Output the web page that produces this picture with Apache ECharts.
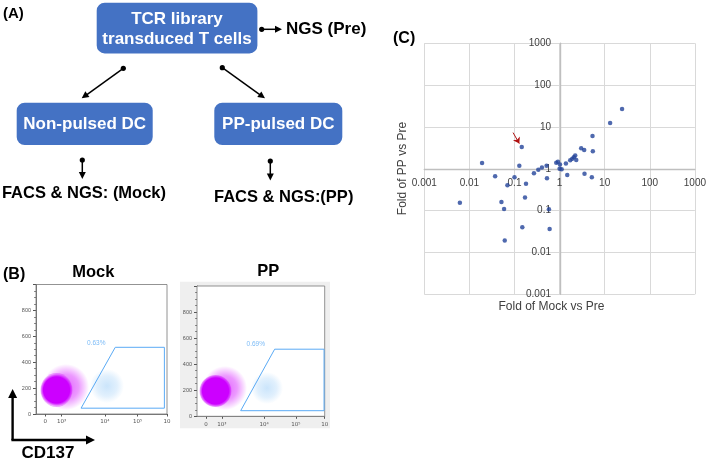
<!DOCTYPE html>
<html><head><meta charset="utf-8">
<script src="https://cdn.jsdelivr.net/npm/echarts@6/dist/echarts.min.js"></script>
<style>html,body{margin:0;padding:0;background:#fff}#c{width:709px;height:462px}</style>
</head><body><div id="c"></div>
<script>
// ---- Panel C data: fold change of each TCR clonotype ----
const foldMock = [24.3,13.2,5.37,5.46,3.01,3.51,3.57,5.19,2.22,2.07,1.91,1.72,2.34,1.38,1.48,0.843,0.918,1.02,1.0,1.11,0.515,0.525,0.406,0.337,0.270,0.145,0.128,0.100,0.0697,0.180,0.171,0.0372,0.0191,0.00615,0.0513,0.0588,0.149,0.0608,0.601,0.580];
const foldPP   = [26.9,12.5,6.10,2.62,3.09,2.82,0.766,0.627,2.07,1.88,1.75,1.60,1.63,1.33,0.713,1.40,1.48,1.26,1.0,0.98,1.19,0.593,1.07,0.955,0.78,3.33,1.19,0.627,0.404,0.441,0.205,0.662,1.38,0.155,0.161,0.110,0.040,0.0192,0.0365,0.108];
const logTickLabels = ['0.001','0.01','0.1','1','10','100','1000'];
const arrowFrom = [0.093, 7.33];
const arrowTo = [0.128, 4.0];

// ---- Panel B: FACS plot axes and gates ----
const facsYTicks = [0,200,400,600,800];
const facsXTickPos = [7,19.5,52.5,77.5,100];
const facsXTickLabels = ['0','10\u00B3','10\u2074','10\u2075','10'];
const gateMock = [[34.4,45],[60.5,515],[98,515],[98,45],[34.4,45]];
const gatePP   = [[34.2,43],[60.8,515],[99.5,515],[99.5,43],[34.2,43]];
const gatePct = ['0.63%','0.69%'];
const gateLabelPos = [[46,550],[46,550]];

// ---- Panel A text ----
const flowTop = ['TCR library','transduced T cells'];
const flowLeft = 'Non-pulsed DC', flowRight = 'PP-pulsed DC';
const flowPre = 'NGS (Pre)';
const flowOutL = 'FACS & NGS: (Mock)', flowOutR = 'FACS & NGS:(PP)';

const chart = echarts.init(document.getElementById('c'), null, {renderer:'canvas'});
const F = 'Liberation Sans, Arial, sans-serif';
const BLUE = '#4472c4';

function txt(x,y,t,o){o=o||{};return {type:'text',x:x,y:y,z:10,style:{text:t,fill:o.fill||'#000',font:(o.bold===false?'':'bold ')+(o.size||17)+'px '+F,textAlign:o.align||'center',textVerticalAlign:'middle'}};}
function box(x,y,w,h){return {type:'rect',z:5,shape:{x:x,y:y,width:w,height:h,r:8},style:{fill:BLUE}};}
function arrow(p0,p1,o){o=o||{};const w=o.w||1.5,len=o.len||7,hw=o.hw||3.5,dot=o.dot!==false,col=o.color||'#000';
  const dx=p1[0]-p0[0],dy=p1[1]-p0[1],L=Math.hypot(dx,dy),ux=dx/L,uy=dy/L,nx=-uy,ny=ux;
  const bx=p1[0]-ux*len,by=p1[1]-uy*len;
  const els=[{type:'line',z:6,shape:{x1:p0[0],y1:p0[1],x2:bx+ux*1,y2:by+uy*1},style:{stroke:col,lineWidth:w}},
    {type:'polygon',z:6,shape:{points:[[p1[0],p1[1]],[bx+nx*hw,by+ny*hw],[bx-nx*hw,by-ny*hw]]},style:{fill:col}}];
  if(dot) els.push({type:'circle',z:6,shape:{cx:p0[0],cy:p0[1],r:2.6},style:{fill:col}});
  return els;}
function blob(cx,cy,rx,ry,color,stops,z){return {type:'ellipse',z:z||3,shape:{cx:cx,cy:cy,rx:rx,ry:ry},
  style:{fill:{type:'radial',x:0.5,y:0.5,r:0.5,colorStops:stops.map(s=>({offset:s[0],color:echarts.color.modifyAlpha(color,s[1])}))}}};}

const graphics = [
  txt(3,13.5,'(A)',{align:'left',size:15}),
  box(96.7,2.7,160.7,50.7), txt(177,19.5,flowTop[0],{fill:'#fff'}), txt(177,39.5,flowTop[1],{fill:'#fff'}),
  ...arrow([261.7,29.3],[282,29.3]), txt(286,29.5,flowPre,{align:'left'}),
  ...arrow([123.3,68.3],[81.7,98.3]), ...arrow([222.3,67.7],[265,98.3]),
  box(16.7,102.7,136,42.3), txt(84.7,124.5,flowLeft,{fill:'#fff'}),
  box(214.3,102.7,128,42.3), txt(278.3,124.5,flowRight,{fill:'#fff'}),
  ...arrow([82.3,160],[82.3,179]), ...arrow([270.3,161],[270.3,180.5]),
  txt(84,193.5,flowOutL,{size:16.5}), txt(283.7,197,flowOutR,{size:16.5}),
  // Panel B
  txt(3,275,'(B)',{align:'left',size:16}),
  txt(93.3,272,'Mock',{size:16.5}), txt(268.3,271,'PP',{size:16.5}),
  {type:'rect',z:0,shape:{x:180,y:281.7,width:150,height:146.6},style:{fill:'#efefef'}},
  {type:'rect',z:1,shape:{x:197,y:286,width:127.7,height:130.3},style:{fill:'#fff'}},
  // Mock densities
  blob(66,387,31,23,'#d000ff',[[0,0.6],[0.55,0.4],[0.8,0.18],[1,0]]),
  blob(107,386,28,17,'#6ab4f4',[[0,0.35],[0.6,0.2],[1,0]]),
  blob(56.5,390,16,17,'#cc00ff',[[0,1],[0.82,1],[1,0.3]],4),
  // PP densities
  blob(225,388,30,22,'#d000ff',[[0,0.6],[0.55,0.4],[0.8,0.18],[1,0]]),
  blob(267,388,25,16,'#6ab4f4',[[0,0.35],[0.6,0.2],[1,0]]),
  blob(215.5,391,16,16,'#cc00ff',[[0,1],[0.82,1],[1,0.3]],4),
  // CD137 axis arrow
  ...arrow([12.6,440],[12.6,389],{w:2.4,len:9,hw:4.5,dot:false}),
  ...arrow([11.4,440],[95,440],{w:2.4,len:9,hw:4.5,dot:false}),
  txt(48,453.5,'CD137',{size:17}),
  // Panel C
  txt(393,38.7,'(C)',{align:'left',size:16}),
  {type:'text',x:551.5,y:306.5,z:10,style:{text:'Fold of Mock vs Pre',fill:'#404040',font:'12px '+F,textAlign:'center',textVerticalAlign:'middle'}},
  {type:'text',x:402.5,y:168.5,rotation:Math.PI/2,z:10,style:{text:'Fold of PP vs Pre',fill:'#404040',font:'12px '+F,textAlign:'center',textVerticalAlign:'middle'}}
];

function facsAxes(gi){
  return {
    x:{type:'value',gridIndex:gi,min:0,max:100,
      axisLine:{show:true,onZero:false,lineStyle:{color:'#555',width:0.8}},
      axisTick:{show:true,customValues:facsXTickPos,length:2.5,lineStyle:{color:'#555'}},
      axisLabel:{customValues:facsXTickPos,fontSize:5.5,color:'#555',margin:5,fontFamily:'DejaVu Sans',
        formatter:v=>{const i=facsXTickPos.indexOf(v);return i>=0?facsXTickLabels[i]:'';}},
      splitLine:{show:false}},
    y:{type:'value',gridIndex:gi,min:0,max:1000,interval:200,
      axisLine:{show:true,lineStyle:{color:'#555',width:0.8}},
      axisTick:{show:true,length:3,lineStyle:{color:'#555'}},
      minorTick:{show:true,splitNumber:4,length:1.8,lineStyle:{color:'#777'}},
      axisLabel:{fontSize:5.5,color:'#555',margin:5,showMaxLabel:false,
        formatter:v=>facsYTicks.indexOf(v)>=0?String(v):''},
      splitLine:{show:false}}
  };
}
const fm = facsAxes(1), fp = facsAxes(2);

function gateSeries(gi,gate){return {type:'line',xAxisIndex:gi,yAxisIndex:gi,data:gate,showSymbol:false,symbol:'none',
  lineStyle:{color:'#5aaaf5',width:1},silent:true,z:5,animation:false};}
function gateLabel(gi,i){return {type:'scatter',xAxisIndex:gi,yAxisIndex:gi,data:[gateLabelPos[i]],symbolSize:0,silent:true,z:6,
  label:{show:true,position:'inside',formatter:gatePct[i],color:'#5aaaf5',fontSize:6.5,fontFamily:F}};}

chart.setOption({
  animation:false,
  backgroundColor:'#fff',
  grid:[
    {left:424.3,top:43.3,width:271.4,height:251,containLabel:false,show:false},
    {left:36,top:284.5,width:131,height:129.5,show:true,borderColor:'#777',borderWidth:0.8,backgroundColor:'transparent',z:2},
    {left:197,top:286,width:127.7,height:130.3,show:true,borderColor:'#777',borderWidth:0.8,backgroundColor:'transparent',z:2}
  ],
  xAxis:[
    {type:'log',gridIndex:0,logBase:10,min:0.001,max:1000,position:'bottom',offset:-125.5,
      axisLine:{show:true,onZero:false,lineStyle:{color:'#bfbfbf',width:1.4}},axisTick:{show:false},
      axisLabel:{fontSize:10,color:'#404040',fontFamily:F,margin:9,showMinLabel:true,showMaxLabel:true,
        formatter:v=>{const i=Math.round(Math.log10(v))+3;return logTickLabels[i]||'';}},
      splitLine:{show:true,lineStyle:{color:'#d9d9d9',width:1}}},
    fm.x, fp.x
  ],
  yAxis:[
    {type:'log',gridIndex:0,logBase:10,min:0.001,max:1000,position:'left',offset:-135.7,
      axisLine:{show:true,onZero:false,lineStyle:{color:'#bfbfbf',width:1.4}},axisTick:{show:false},
      axisLabel:{fontSize:10,color:'#404040',fontFamily:F,margin:9,showMinLabel:true,showMaxLabel:true,
        formatter:v=>{const i=Math.round(Math.log10(v))+3;return logTickLabels[i]||'';}},
      splitLine:{show:true,lineStyle:{color:'#d9d9d9',width:1}}},
    fm.y, fp.y
  ],
  series:[
    {type:'scatter',xAxisIndex:0,yAxisIndex:0,symbolSize:4.5,z:5,
      itemStyle:{color:'#23439a'},
      data:foldMock.map((m,i)=>[m,foldPP[i]]),
      markLine:{silent:true,symbol:['none','arrow'],symbolSize:6,label:{show:false},
        lineStyle:{color:'#b01010',width:1,type:'solid'},
        data:[[{coord:arrowFrom},{coord:arrowTo}]]}},
    gateSeries(1,gateMock), gateSeries(2,gatePP),
    gateLabel(1,0), gateLabel(2,1)
  ],
  graphic:graphics
});
</script></body></html>
